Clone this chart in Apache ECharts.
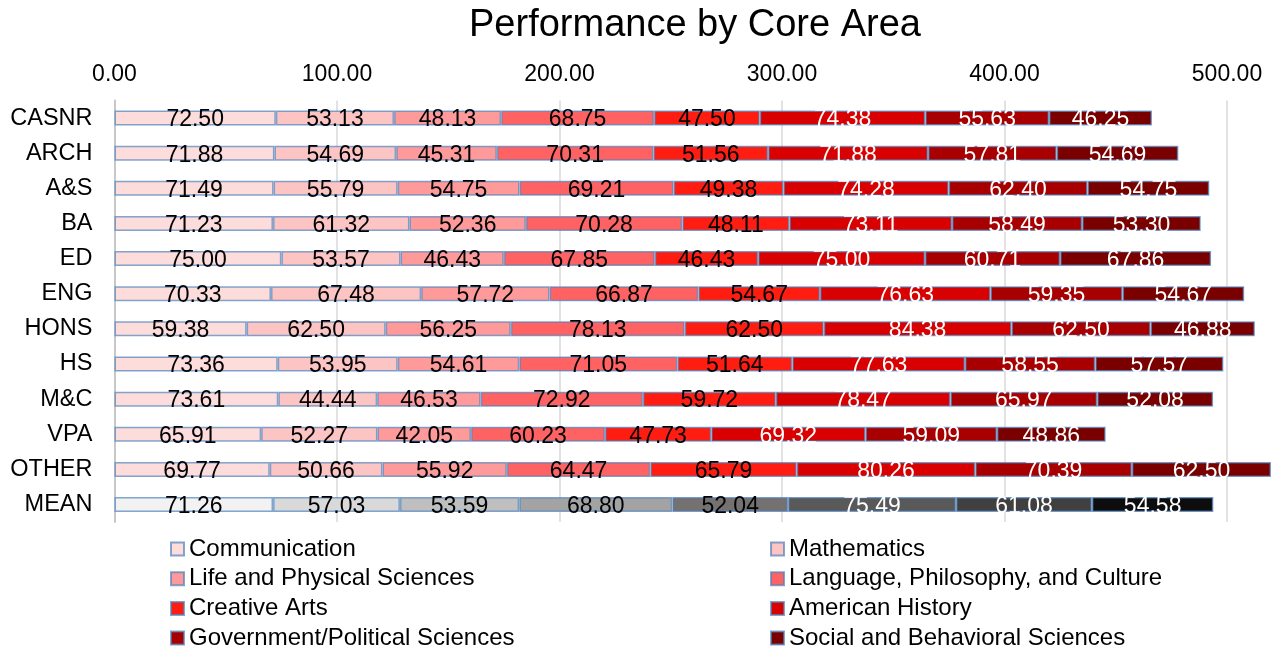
<!DOCTYPE html>
<html>
<head>
<meta charset="utf-8">
<script src="https://cdn.jsdelivr.net/npm/echarts@6/dist/echarts.min.js"></script>
<style>
  html, body { margin: 0; padding: 0; background: #fff; }
  #main { width: 1272px; height: 650px; }
</style>
</head>
<body>
<div id="main"></div>
<script>
var colleges = ['CASNR', 'ARCH', 'A&S', 'BA', 'ED', 'ENG', 'HONS', 'HS', 'M&C', 'VPA', 'OTHER', 'MEAN'];

var communication   = [72.50, 71.88, 71.49, 71.23, 75.00, 70.33, 59.38, 73.36, 73.61, 65.91, 69.77, 71.26];
var mathematics     = [53.13, 54.69, 55.79, 61.32, 53.57, 67.48, 62.50, 53.95, 44.44, 52.27, 50.66, 57.03];
var lifeSciences    = [48.13, 45.31, 54.75, 52.36, 46.43, 57.72, 56.25, 54.61, 46.53, 42.05, 55.92, 53.59];
var language        = [68.75, 70.31, 69.21, 70.28, 67.85, 66.87, 78.13, 71.05, 72.92, 60.23, 64.47, 68.80];
var creativeArts    = [47.50, 51.56, 49.38, 48.11, 46.43, 54.67, 62.50, 51.64, 59.72, 47.73, 65.79, 52.04];
var americanHistory = [74.38, 71.88, 74.28, 73.11, 75.00, 76.63, 84.38, 77.63, 78.47, 69.32, 80.26, 75.49];
var government      = [55.63, 57.81, 62.40, 58.49, 60.71, 59.35, 62.50, 58.55, 65.97, 59.09, 70.39, 61.08];
var socialSciences  = [46.25, 54.69, 54.75, 53.30, 67.86, 54.67, 46.88, 57.57, 52.08, 48.86, 62.50, 54.58];

var tickValues = [0, 100, 200, 300, 400, 500];

var names = ['Communication', 'Mathematics', 'Life and Physical Sciences', 'Language, Philosophy, and Culture',
             'Creative Arts', 'American History', 'Government/Political Sciences', 'Social and Behavioral Sciences'];
var values = [communication, mathematics, lifeSciences, language, creativeArts, americanHistory, government, socialSciences];
var reds = ['#fddcdc', '#fdc4c4', '#fe9a9a', '#fe6262', '#ff1d12', '#d80000', '#a80000', '#7a0000'];
var greys = ['#f2f2f2', '#d9d9d9', '#bfbfbf', '#a3a3a3', '#767171', '#595959', '#404040', '#0d0d0d'];
var labelColors = ['#000', '#000', '#000', '#000', '#000', '#fff', '#fff', '#fff'];

var font = 'Liberation Sans, Arial, sans-serif';

var series = values.map(function (vals, s) {
    return {
        name: names[s],
        type: 'bar',
        stack: 'total',
        barWidth: 15,
        itemStyle: {
            color: reds[s],
            borderColor: 'rgba(79,129,189,0.7)',
            borderWidth: 1.5
        },
        label: {
            show: true,
            position: 'inside',
            offset: [0, 2],
            fontFamily: font,
            fontSize: 23,
            color: labelColors[s],
            formatter: function (p) { return p.value.toFixed(2); }
        },
        data: vals.map(function (v, i) {
            if (colleges[i] === 'MEAN') {
                return { value: v, itemStyle: { color: greys[s] } };
            }
            return v;
        })
    };
});

var legendBase = {
    orient: 'vertical',
    itemWidth: 13,
    itemHeight: 13,
    itemGap: 5.7,
    icon: 'rect',
    top: 537,
    padding: 0,
    height: 200,
    textStyle: { fontFamily: font, fontSize: 24, color: '#000', lineHeight: 24 }
};

var myChart = echarts.init(document.getElementById('main'));

var option = {
    animation: false,
    title: {
        text: 'Performance by Core Area',
        left: 690,
        textAlign: 'center',
        top: 2,
        textStyle: { fontFamily: font, fontSize: 38, fontWeight: 'normal', color: '#000' }
    },
    legend: [
        Object.assign({}, legendBase, { left: 170, data: [names[0], names[2], names[4], names[6]] }),
        Object.assign({}, legendBase, { left: 770, data: [names[1], names[3], names[5], names[7]] })
    ],
    grid: { left: 114.5, top: 100.5, width: 1157, height: 421.6 },
    xAxis: {
        type: 'value',
        position: 'top',
        min: 0,
        max: 520,
        interval: 100,
        axisLine: { show: false },
        axisTick: { show: false },
        axisLabel: {
            margin: 14,
            fontFamily: font,
            fontSize: 23,
            color: '#000',
            showMaxLabel: false,
            formatter: function (v) { return tickValues.indexOf(v) >= 0 ? v.toFixed(2) : ''; }
        },
        splitLine: { show: true, showMaxLine: false, lineStyle: { color: '#d9d9d9', width: 1.5 } }
    },
    yAxis: {
        type: 'category',
        inverse: true,
        data: colleges,
        axisLine: { show: true, lineStyle: { color: '#c8c8c8', width: 2 } },
        axisTick: { show: false },
        axisLabel: { margin: 22, fontFamily: font, fontSize: 23.5, color: '#000', padding: [0, 0, 6, 0] }
    },
    series: series
};

myChart.setOption(option);
</script>
</body>
</html>
